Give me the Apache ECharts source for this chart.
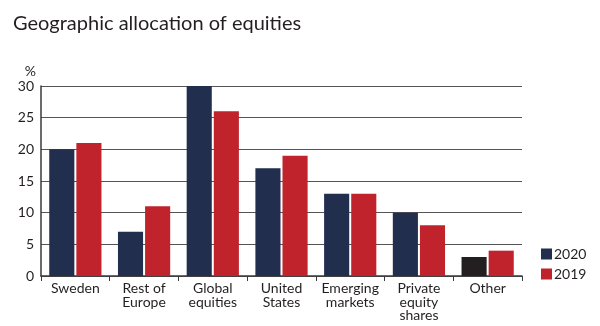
<!DOCTYPE html>
<html>
<head>
<meta charset="utf-8">
<script src="https://cdn.jsdelivr.net/npm/echarts@6/dist/echarts.min.js"></script>
<style>
  html, body { margin: 0; padding: 0; background: #fff; }
  #chart { width: 600px; height: 326px; }
</style>
</head>
<body>
<div id="chart"></div>
<script>
// Allocation of equities by region, percent of equity holdings
const categories = ['Sweden', 'Rest of\nEurope', 'Global\nequities', 'United\nStates', 'Emerging\nmarkets', 'Private\nequity\nshares', 'Other'];
const values2020 = [20, 7, 30, 17, 13, 10, 3];
const values2019 = [21, 11, 26, 19, 13, 8, 4];
const seriesNames = ['2020', '2019'];

const NAVY = '#212e4e';
const RED = '#c1232d';
const OTHER_2020 = '#231f20';
const FONT = 'Lato';

const chart = echarts.init(document.getElementById('chart'), null, { renderer: 'canvas' });

chart.setOption({
  animation: false,
  backgroundColor: '#ffffff',
  textStyle: { fontFamily: FONT },
  title: {
    text: 'Geographic allocation of equities',
    left: 8,
    top: 9,
    textStyle: { fontFamily: FONT, fontSize: 20, fontWeight: 'normal', color: '#231f20' }
  },
  grid: { left: 41, right: 78, top: 86, bottom: 50, containLabel: false },
  legend: {
    orient: 'vertical',
    left: 536,
    top: 242,
    itemWidth: 11,
    itemHeight: 11,
    itemGap: 6,
    icon: 'rect',
    textStyle: { fontFamily: FONT, fontSize: 14, color: '#231f20', padding: [0, 0, 0, -3] },
    data: seriesNames
  },
  xAxis: {
    type: 'category',
    data: categories,
    axisLine: { lineStyle: { color: '#3a3a3a', width: 1.5 } },
    axisTick: { show: true, length: 5, lineStyle: { color: '#3a3a3a' } },
    axisLabel: { fontFamily: FONT, fontSize: 14, color: '#231f20', lineHeight: 13.5, margin: 6, interval: 0 }
  },
  yAxis: {
    type: 'value',
    min: 0,
    max: 30,
    interval: 5,
    name: '%',
    nameLocation: 'end',
    nameGap: 8,
    nameTextStyle: { fontFamily: FONT, fontSize: 14, color: '#231f20', align: 'right', padding: [0, 5, 0, 0] },
    axisLine: { show: true, lineStyle: { color: '#3a3a3a', width: 1.5 } },
    axisTick: { show: false },
    axisLabel: { fontFamily: FONT, fontSize: 14, color: '#231f20', margin: 7 },
    splitLine: { lineStyle: { color: '#555', width: 1.2 } }
  },
  series: [
    {
      name: seriesNames[0],
      type: 'bar',
      data: values2020.map((v, i) => i === values2020.length - 1
        ? { value: v, itemStyle: { color: OTHER_2020 } }
        : v),
      itemStyle: { color: NAVY },
      barGap: '8%',
      barCategoryGap: '24%'
    },
    {
      name: seriesNames[1],
      type: 'bar',
      data: values2019,
      itemStyle: { color: RED },
      barGap: '8%',
      barCategoryGap: '24%'
    }
  ]
});
</script>
</body>
</html>
